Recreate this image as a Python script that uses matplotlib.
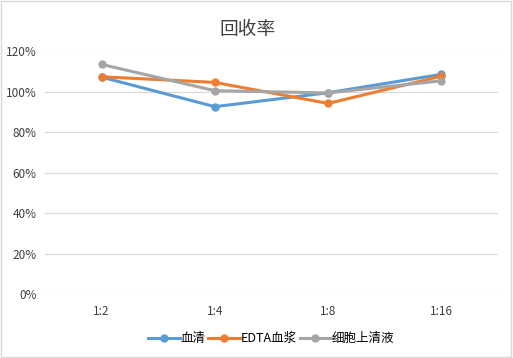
import matplotlib.pyplot as plt
from matplotlib.patches import Rectangle
from matplotlib.ticker import FuncFormatter

plt.rcParams['font.family'] = ['Noto Sans CJK SC', 'DejaVu Sans']

# data
categories = ["1:2", "1:4", "1:8", "1:16"]
serum = [107.3, 92.7, 99.6, 108.7]
edta = [107.5, 104.7, 94.3, 107.8]
supernatant = [113.6, 100.6, 99.5, 105.5]
series_names = ["血清", "EDTA血浆", "细胞上清液"]
colors = ["#5B9BD5", "#ED7D31", "#A5A5A5"]

fig = plt.figure(figsize=(5.13, 3.58), dpi=100)
ax = fig.add_axes([45 / 513, 1 - 294 / 358, 453 / 513, (294 - 51.5) / 358])

x = range(len(categories))
for vals, name, c in zip([serum, edta, supernatant], series_names, colors):
    ax.plot(x, vals, color=c, lw=2.2, marker="o", ms=5, label=name)

ax.set_xlim(-0.5, len(categories) - 0.5)
ax.set_ylim(0, 120)
ax.set_yticks(range(0, 121, 20))
ax.yaxis.set_major_formatter(FuncFormatter(lambda v, p: f"{int(v)}%"))
ax.set_xticks(list(x))
ax.set_xticklabels(categories)
ax.grid(axis="y", color="#D9D9D9", lw=0.9)
ax.set_axisbelow(True)
for s in ax.spines.values():
    s.set_visible(False)
ax.tick_params(length=0, labelsize=8.5, colors="#404040")
ax.tick_params(axis="x", pad=8)
ax.tick_params(axis="y", pad=6)

fig.text(0.482, 1 - 30 / 358, "回收率", ha="center", va="center", fontsize=13.5, color="#404040")

ax.legend(loc="center", bbox_to_anchor=(0.5, -0.185), ncol=3, frameon=False,
          fontsize=9, handlelength=2.5, handletextpad=0.1, columnspacing=0.2)

fig.patches.append(Rectangle((0.002, 0.003), 0.995, 0.994, transform=fig.transFigure,
                             fill=False, edgecolor="#D9D9D9", lw=1))

fig.savefig("out.png", dpi=100)
